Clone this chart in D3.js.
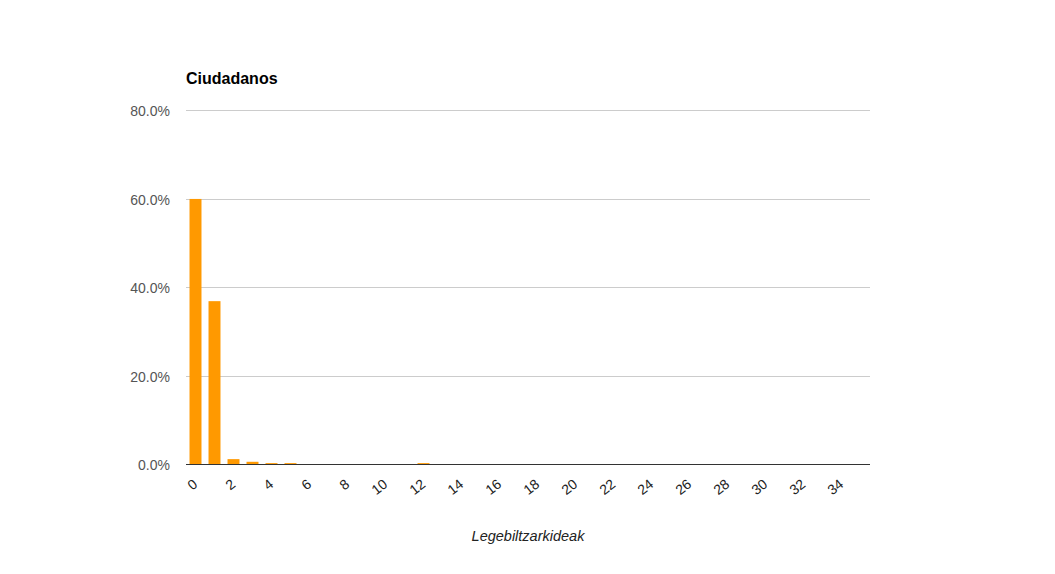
<!DOCTYPE html>
<html><head><meta charset="utf-8">
<script src="https://cdn.jsdelivr.net/npm/d3@7"></script>
<style>body{margin:0;background:#fff;} svg{display:block;font-family:Arial,"Liberation Sans",sans-serif;}</style>
</head><body>
<svg id="c" width="1055" height="574"></svg>
<script>
const title = "Ciudadanos";
const xTitle = "Legebiltzarkideak";
const categories = d3.range(0, 36).map(String);
const values = [59.9, 36.8, 1.1, 0.5, 0.2, 0.2, 0, 0, 0, 0, 0, 0, 0.2, 0, 0, 0, 0, 0, 0, 0, 0, 0, 0, 0, 0, 0, 0, 0, 0, 0, 0, 0, 0, 0, 0, 0];
const yTicks = [0, 20, 40, 60, 80];
const xTickLabels = categories.filter((d, i) => i % 2 === 0);

(function(){
const svg = d3.select("#c");
const pL = 186, pR = 870, pT = 110, pB = 464;
const x = d3.scaleBand().domain(categories).range([pL, pR]).paddingInner(0.37).paddingOuter(0.185);
const y = d3.scaleLinear().domain([0, 80]).range([pB, pT]);

svg.append("g").selectAll("line").data(yTicks).join("line")
  .attr("x1", pL).attr("x2", pR)
  .attr("y1", d => Math.round(y(d)) + 0.5).attr("y2", d => Math.round(y(d)) + 0.5)
  .attr("stroke", "#cccccc").attr("stroke-width", 1);

svg.append("g").selectAll("text").data(yTicks).join("text")
  .attr("x", 170).attr("y", d => y(d) + 6)
  .attr("text-anchor", "end").attr("font-size", 14).attr("fill", "#555555")
  .text(d => d.toFixed(1) + "%");

svg.append("g").selectAll("rect").data(values).join("rect")
  .attr("x", (d, i) => x(categories[i]))
  .attr("width", x.bandwidth())
  .attr("y", d => y(d))
  .attr("height", d => pB - y(d))
  .attr("fill", "#ff9900");

const xAxis = d3.axisBottom(x).tickValues(xTickLabels).tickSize(0).tickPadding(0);
const gx = svg.append("g").attr("transform", `translate(0,${pB})`).call(xAxis);
gx.select(".domain").remove();
gx.selectAll("text")
  .attr("font-size", 14).attr("font-family", "Arial, 'Liberation Sans', sans-serif").attr("fill", "#222222")
  .attr("text-anchor", "end").attr("dy", null).attr("y", 0)
  .attr("transform", "translate(3,22) rotate(-38)");

svg.append("line").attr("x1", pL).attr("x2", pR).attr("y1", pB + 0.5).attr("y2", pB + 0.5)
  .attr("stroke", "#333333").attr("stroke-width", 1);

svg.append("text").attr("x", pL).attr("y", 84)
  .attr("font-size", 16).attr("font-weight", "bold").attr("fill", "#000").text(title);

svg.append("text").attr("x", (pL + pR) / 2).attr("y", 541)
  .attr("text-anchor", "middle").attr("font-size", 14.5).attr("font-style", "italic").attr("fill", "#222222").text(xTitle);
})();
</script>
</body></html>
